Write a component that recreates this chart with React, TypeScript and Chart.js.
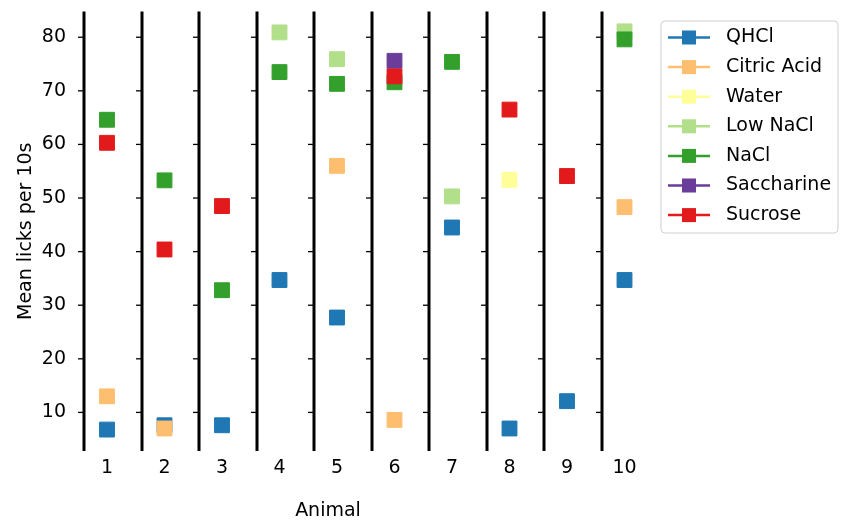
import React, { useEffect, useRef } from "react";
import { Chart, registerables } from "chart.js";

Chart.register(...registerables);

const animals = [1, 2, 3, 4, 5, 6, 7, 8, 9, 10];
const seriesNames = ["QHCl", "Citric Acid", "Water", "Low NaCl", "NaCl", "Saccharine", "Sucrose"];
const seriesColors = ["#1f78b4", "#fdbf6f", "#ffff99", "#b2df8a", "#33a02c", "#6a3d9a", "#e31a1c"];

const qhcl = [6.8, 7.6, 7.6, 34.7, 27.7, null, 44.5, 7.0, 12.1, 34.7];
const citricAcid = [13.0, 7.0, null, null, 56.0, 8.6, null, null, null, 48.3];
const water = [null, null, null, null, null, null, null, 53.4, null, null];
const lowNaCl = [null, null, null, 80.9, 75.9, null, 50.3, null, null, 81.1];
const naCl = [64.6, 53.3, 32.8, 73.5, 71.3, 71.6, 75.4, null, null, 79.6];
const saccharine = [null, null, null, null, null, 75.6, null, null, null, null];
const sucrose = [60.3, 40.4, 48.5, null, null, 72.7, null, 66.5, 54.1, null];

const seriesValues = [qhcl, citricAcid, water, lowNaCl, naCl, saccharine, sucrose];
const yTicks = [10, 20, 30, 40, 50, 60, 70, 80];

const FONT = "'DejaVu Sans', sans-serif";
const FS = 19;

const customPlugin = {
  id: "custom",
  afterDatasetsDraw(chart: any) {
    const { ctx, chartArea, scales } = chart;
    const xs = scales.x;
    const ys = scales.y;
    ctx.save();
    animals.forEach((a) => {
      const px = Math.round(xs.getPixelForValue(a - 0.4));
      ctx.strokeStyle = "#000";
      ctx.lineWidth = 3;
      ctx.beginPath();
      ctx.moveTo(px, chartArea.top);
      ctx.lineTo(px, chartArea.bottom);
      ctx.stroke();
      ctx.lineWidth = 1.3;
      yTicks.forEach((t) => {
        const py = ys.getPixelForValue(t);
        ctx.beginPath();
        ctx.moveTo(px - 6, py);
        ctx.lineTo(px, py);
        ctx.stroke();
      });
    });
    ctx.restore();
  },
  afterDraw(chart: any) {
    const { ctx } = chart;
    ctx.save();
    ctx.fillStyle = "#000";
    ctx.font = `${FS}px ${FONT}`;
    ctx.textAlign = "center";
    ctx.textBaseline = "middle";
    ctx.fillText("Animal", 328, 511);
    const bx = 661, by = 21, bw = 177, bh = 212, r = 4;
    ctx.beginPath();
    ctx.moveTo(bx + r, by);
    ctx.lineTo(bx + bw - r, by);
    ctx.quadraticCurveTo(bx + bw, by, bx + bw, by + r);
    ctx.lineTo(bx + bw, by + bh - r);
    ctx.quadraticCurveTo(bx + bw, by + bh, bx + bw - r, by + bh);
    ctx.lineTo(bx + r, by + bh);
    ctx.quadraticCurveTo(bx, by + bh, bx, by + bh - r);
    ctx.lineTo(bx, by + r);
    ctx.quadraticCurveTo(bx, by, bx + r, by);
    ctx.closePath();
    ctx.fillStyle = "rgba(255,255,255,0.8)";
    ctx.fill();
    ctx.strokeStyle = "#d0d0d0";
    ctx.lineWidth = 1;
    ctx.stroke();
    seriesNames.forEach((name, i) => {
      const y = 37.5 + i * 29.6;
      const c = seriesColors[i];
      ctx.strokeStyle = c;
      ctx.lineWidth = 2.5;
      ctx.beginPath();
      ctx.moveTo(668, y);
      ctx.lineTo(710, y);
      ctx.stroke();
      ctx.fillStyle = c;
      ctx.fillRect(682, y - 7, 14, 14);
      ctx.fillStyle = "#000";
      ctx.textAlign = "left";
      ctx.textBaseline = "middle";
      ctx.fillText(name, 726, y);
    });
    ctx.restore();
  },
};

export default function App() {
  const ref = useRef<HTMLCanvasElement | null>(null);
  useEffect(() => {
    document.body.style.margin = "0";
    Chart.defaults.font.family = FONT;
    Chart.defaults.color = "#000";
    const datasets = seriesNames.map((name, i) => ({
      label: name,
      data: animals
        .map((a, j) => ({ x: a, y: seriesValues[i][j] }))
        .filter((p) => p.y !== null),
      backgroundColor: seriesColors[i],
      borderColor: seriesColors[i],
      borderWidth: 1,
      pointStyle: "rect",
      pointRadius: 10.5,
      pointHoverRadius: 10.5,
      showLine: false,
      order: seriesNames.length - i,
    }));
    const chart = new Chart(ref.current!, {
      type: "scatter",
      data: { datasets } as any,
      options: {
        animation: false,
        responsive: false,
        layout: { padding: { left: 0, right: 186, top: 10, bottom: 0 } },
        plugins: { legend: { display: false }, tooltip: { enabled: false } },
        scales: {
          x: {
            type: "linear",
            min: 0.6,
            max: 10.6,
            afterBuildTicks: (axis: any) => {
              axis.ticks = animals.map((v) => ({ value: v }));
            },
            afterFit: (axis: any) => {
              axis.height = 73;
              axis.paddingLeft = 0;
              axis.paddingRight = 0;
            },
            grid: { display: false, drawTicks: false },
            border: { display: false },
            ticks: { font: { size: FS }, padding: 6, color: "#000", callback: (v: any) => String(v) },
          },
          y: {
            min: 2.8,
            max: 84.8,
            afterBuildTicks: (axis: any) => {
              axis.ticks = yTicks.map((v) => ({ value: v }));
            },
            afterFit: (axis: any) => {
              axis.width = 84;
              axis.paddingTop = 0;
              axis.paddingBottom = 0;
            },
            grid: { display: false, drawTicks: false },
            border: { display: false },
            title: {
              display: true,
              text: "Mean licks per 10s",
              font: { size: FS },
              color: "#000",
              padding: { top: 15, bottom: 0 },
            },
            ticks: { font: { size: FS }, padding: 18, color: "#000", callback: (v: any) => String(v) },
          },
        },
      } as any,
      plugins: [customPlugin],
    });
    return () => chart.destroy();
  }, []);
  return (
    <div style={{ width: 845, height: 524 }}>
      <canvas ref={ref} width={845} height={524} />
    </div>
  );
}
